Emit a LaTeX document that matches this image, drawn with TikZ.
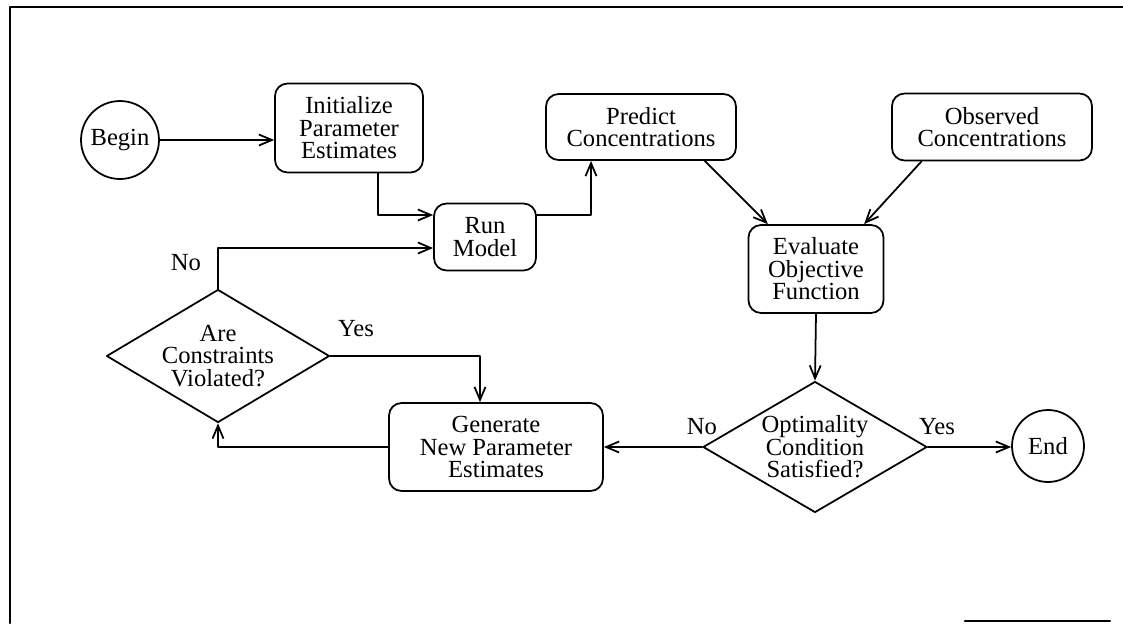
\documentclass[tikz,border=0pt]{standalone}
\usepackage{fontspec}
\setmainfont{Liberation Serif}
\usetikzlibrary{shapes.geometric,arrows.meta}
\begin{document}
\begin{tikzpicture}[line join=round,line cap=round,>={Straight Barb[length=2.6mm,width=2.2mm]},x=0.02cm,y=-0.02cm,line width=1pt]
	\tikzset{every node/.style={font=\fontsize{14}{12.8}\selectfont,align=center},
		procbox/.style={draw,rounded corners=0.25cm,inner sep=0pt},
		termcirc/.style={draw,circle,inner sep=0pt},
		decide/.style={draw,diamond,aspect=1.8,inner sep=0pt}}
	\useasboundingbox (0,0) rectangle (1123,623);
	% frame
	\draw[line width=1.3pt] (10,623)--(10,7)--(1123,7);
	\draw[line width=1.3pt] (965,621)--(1110,621);
	% nodes
	\node[termcirc,minimum size=1.56cm] (begin) at (120,140) {Begin};
	\node[procbox,minimum width=2.96cm,minimum height=1.78cm] (init) at (349,128) {Initialize\\Parameter\\Estimates};
	\node[procbox,minimum width=2.04cm,minimum height=1.34cm] (run) at (485,237) {Run\\Model};
	\node[procbox,minimum width=3.8cm,minimum height=1.32cm] (pred) at (641,127) {Predict\\Concentrations};
	\node[procbox,minimum width=4cm,minimum height=1.34cm] (obs) at (992,127) {Observed\\Concentrations};
	\node[procbox,minimum width=2.7cm,minimum height=1.76cm] (eval) at (816,269) {Evaluate\\Objective\\Function};
	\node[decide,minimum width=4.48cm,minimum height=2.62cm] (opt) at (815,447) {Optimality\\Condition\\Satisfied?};
	\node[termcirc,minimum size=1.44cm] (end) at (1048,446) {End};
	\node[procbox,minimum width=4.28cm,minimum height=1.76cm] (gen) at (496,447) {Generate\\New Parameter\\Estimates};
	\node[decide,minimum width=4.46cm,minimum height=2.66cm] (cons) at (218,356) {Are\\Constraints\\Violated?};
	% labels
	\node (cons-no) at (186,263) {No};
	\node (cons-yes) at (356,329) {Yes};
	\node (opt-no) at (702,427) {No};
	\node (opt-yes) at (937,427) {Yes};
	% connectors
	\draw[->] (begin.east) -- (begin.east -| init.west);
	\draw[->] ([xshift=0.58cm]init.south) |- ([yshift=0.44cm]run.west);
	\draw[->] (cons.north) |- ([yshift=-0.22cm]run.west);
	\draw[->] ([yshift=0.44cm]run.east) -| ([xshift=-1cm]pred.south);
	\draw[->] (pred.-28) -- (eval.137);
	\draw[->] (obs.206) -- (eval.43);
	\draw[->] (eval.south) -- (opt.north);
	\draw[->] (opt.west) -- (gen.east);
	\draw[->] (opt.east) -- (opt.east -| end.west);
	\draw[->] (cons.east) -| ([xshift=-0.32cm]gen.north);
	\draw[->] (gen.west) -| (cons.south);
\end{tikzpicture}
\end{document}
